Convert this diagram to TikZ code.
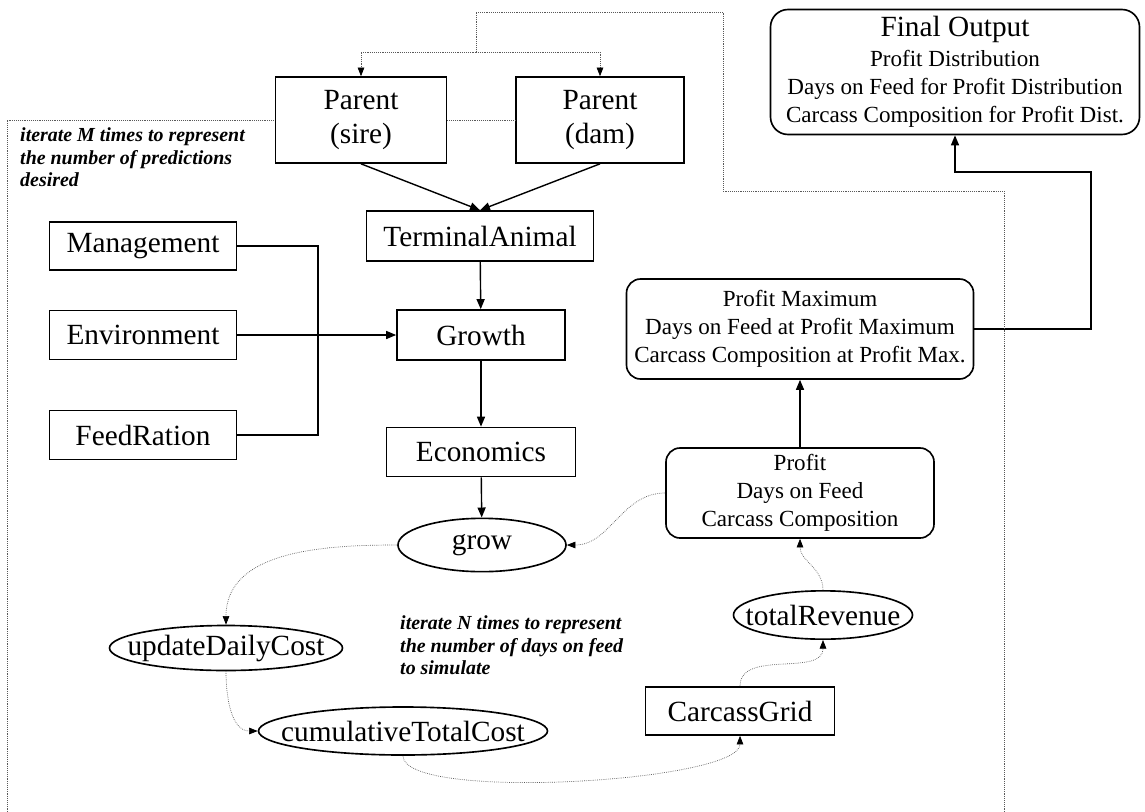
\documentclass[tikz,border=0pt]{standalone}
\usepackage{fontspec}
\setmainfont{Liberation Serif}
\usetikzlibrary{arrows.meta, positioning, calc, shapes.geometric}

\begin{document}
\begin{tikzpicture}[
  x=0.03cm, y=-0.03cm,
  lbl/.style   ={font=\fontsize{25}{29}\selectfont},
  box/.style   ={draw, line width=1.4pt, align=center, inner sep=1pt, lbl},
  oval/.style  ={draw, ellipse, line width=1.4pt, inner sep=0pt, lbl},
  rbox/.style  ={draw, rounded corners=12pt, line width=1.4pt, align=center,
                 font=\fontsize{19.7}{24}\selectfont},
  note/.style  ={anchor=north west, align=left, inner sep=0pt,
                 font=\fontsize{17}{19.6}\selectfont\bfseries\itshape},
  flow/.style  ={line width=1.2pt, -{Triangle[length=3mm, width=2.4mm]}},
  link/.style  ={line width=1.2pt},
  iter/.style  ={draw=black!65, line width=0.6pt, densely dotted,
                 -{Triangle[length=2.6mm, width=2mm, color=black]}},
  frame/.style ={draw=black!65, line width=0.6pt, densely dotted},
]
\path[use as bounding box, fill=white] (0,0) rectangle (1145,812);

% =========================== NODES ==================================
\node[box, minimum width=5.13cm, minimum height=2.58cm] (sire)   at (361,120) {Parent\\(sire)};
\node[box, minimum width=5.04cm, minimum height=2.58cm] (dam)    at (600,120) {Parent\\(dam)};
\node[box, minimum width=6.81cm, minimum height=1.50cm] (term)   at (480,236) {TerminalAnimal};
\node[box, minimum width=5.61cm, minimum height=1.45cm] (mgmt)   at (143,246) {Management};
\node[box, minimum width=5.61cm, minimum height=1.47cm] (env)    at (143,335) {Environment};
\node[box, minimum width=5.61cm, minimum height=1.47cm] (feed)   at (143,435) {FeedRation};
\node[box, minimum width=5.04cm, minimum height=1.50cm] (growth) at (481,335) {Growth};
\node[box, minimum width=5.67cm, minimum height=1.47cm] (econ)   at (481,452) {Economics};
\node[box, minimum width=5.67cm, minimum height=1.44cm] (grid)   at (740,711) {CarcassGrid};

\node[oval, minimum width=5.04cm, minimum height=1.60cm] (grow)  at (482,545) {\makebox[0pt]{grow}};
\node[oval, minimum width=6.99cm, minimum height=1.35cm] (daily) at (226,648) {\makebox[0pt]{updateDailyCost}};
\node[oval, minimum width=8.67cm, minimum height=1.44cm] (cumul) at (403,731) {\makebox[0pt]{cumulativeTotalCost}};
\node[oval, minimum width=5.37cm, minimum height=1.45cm] (rev)   at (823,615) {\makebox[0pt]{totalRevenue}};

\node[rbox, minimum width=8.04cm, minimum height=2.70cm] (profit) at (800,493)
  {Profit\\Days on Feed\\Carcass Composition};
\node[rbox, minimum width=10.41cm, minimum height=3.00cm] (pmax) at (800,329)
  {Profit Maximum\\Days on Feed at Profit Maximum\\Carcass Composition at Profit Max.};
\node[rbox, rounded corners=15pt, minimum width=11.07cm, minimum height=3.75cm] (final) at (955,72)
  {{\fontsize{25}{27}\selectfont Final Output}\\[1pt]Profit Distribution\\
   Days on Feed for Profit Distribution\\Carcass Composition for Profit Dist.};

% =========================== NOTES ==================================
\node[note] (noteM) at (20,127) {iterate M times to represent\\the number of predictions\\desired};
\node[note] (noteN) at (400,615) {iterate N times to represent\\the number of days on feed\\to simulate};

% ======================= MODEL FLOW (solid) =========================
\draw[flow] (sire.south) -- (term.north);
\draw[flow] (dam.south) -- (term.north);
\draw[flow] (term) -- (growth);
\draw[flow] (growth) -- (econ);
\draw[flow] (econ) -- (grow);
% inputs joined into Growth
\coordinate (join) at (318,0);
\draw[link] (mgmt.east) -- (mgmt.east -| join) -- (feed.east -| join) -- (feed.east);
\draw[flow] (env.east) -- (growth.west);
% results
\draw[flow] (profit) -- (pmax);
\coordinate (outR) at (1091,172);
\draw[flow] (pmax.east) -| (outR) -| (final.south);

% ======================= DAILY LOOP (dotted) ========================
\draw[iter] (grow.west) to[out=180, in=90] (daily.north);
\draw[iter] (daily.south) to[out=-90, in=180] (cumul.west);
\draw[iter] (cumul.south) to[out=-90, in=-90, looseness=0.35] (grid.south);
\draw[iter] (grid.north) to[out=90, in=-90] (rev.south);
\draw[iter] (rev.north) to[out=90, in=-90] (profit.south);
\draw[iter] (profit.west) to[out=180, in=0] (grow.east);

% ======================= PREDICTION LOOP (frame) ====================
\coordinate (split) at (476,52);
\coordinate (topL)  at (476,12);
\coordinate (topR)  at (723,12);
\coordinate (bendR) at (723,191);
\draw[frame] (7,812) |- (sire.west);
\draw[frame] (sire.east) -- (dam.west);
\draw[frame] (1004,812) |- (bendR) -- (topR) -- (topL) -- (split);
\draw[iter] (split) -| (sire.north);
\draw[iter] (split) -| (dam.north);

\end{tikzpicture}
\end{document}
